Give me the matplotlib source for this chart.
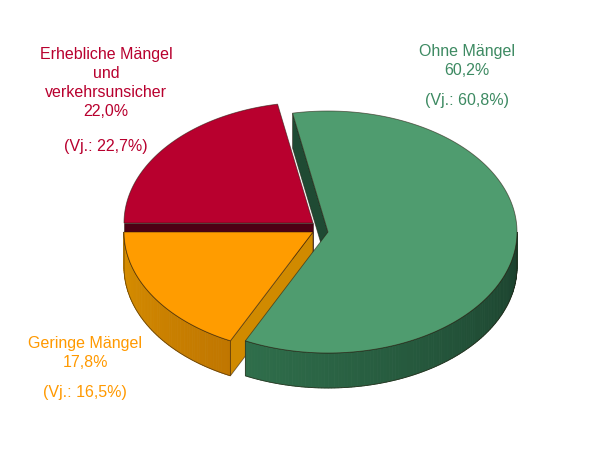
import numpy as np
import matplotlib
matplotlib.use("Agg")
import matplotlib.pyplot as plt
from matplotlib.patches import Polygon
from matplotlib.colors import to_rgb

# shares in percent, previous year values
labels = ["Erhebliche Mängel\nund\nverkehrsunsicher", "Geringe Mängel", "Ohne Mängel"]
shares = [22.0, 17.8, 60.2]
prev_year = [22.7, 16.5, 60.8]

top_colors = ["#b8002e", "#ff9c00", "#4f9c6f"]
side_colors = ["#4d0014", "#d08a00", "#1f4a33"]
wall_light = ["#8a0022", "#d99000", "#2f6e4b"]
wall_dark = ["#6a001a", "#c07600", "#1a3f2c"]
text_colors = ["#b8002e", "#ff9900", "#3d8a62"]
shifts = [(0, -9), (0, 0), (15, 0)]

cx, cy = 313, 232
rx, ry = 189, 121
depth = 35
startangle = 180 - shares[0] * 3.6

plt.rcParams['font.family'] = ['Liberation Sans', 'DejaVu Sans']
fig = plt.figure(figsize=(6, 4.5), dpi=100)
ax = fig.add_axes([0, 0, 1, 1])
ax.set_xlim(0, 600)
ax.set_ylim(450, 0)
ax.axis("off")


def pt(t, ox, oy, dz=0):
    r = np.radians(t)
    return (cx + ox + rx * np.cos(r), cy + oy - ry * np.sin(r) + dz)


def mix(c1, c2, f):
    a, b = np.array(to_rgb(c1)), np.array(to_rgb(c2))
    return tuple(a + (b - a) * f)


edge = (0.15, 0.1, 0.05, 0.6)
t0 = startangle
for i, s in enumerate(shares):
    t1 = t0 + s * 3.6
    ox, oy = shifts[i]
    c_top = (cx + ox, cy + oy)
    c_bot = (cx + ox, cy + oy + depth)

    # radial side walls facing the viewer
    for t, visible in ((t0, np.cos(np.radians(t0)) > 0), (t1, np.cos(np.radians(t1)) < 0)):
        if visible:
            ax.add_patch(Polygon([c_top, pt(t, ox, oy), pt(t, ox, oy, depth), c_bot],
                                 closed=True, fc=side_colors[i], ec=edge, lw=0.6))

    # outer curved wall (front half only)
    a0, a1 = max(t0, 180), min(t1, 360)
    if a1 > a0:
        steps = np.linspace(a0, a1, int(a1 - a0) + 2)
        for k in range(len(steps) - 1):
            f = (steps[k] - a0) / (a1 - a0)
            col = mix(wall_light[i], wall_dark[i], f)
            quad = [pt(steps[k], ox, oy), pt(steps[k + 1], ox, oy),
                    pt(steps[k + 1], ox, oy, depth), pt(steps[k], ox, oy, depth)]
            ax.add_patch(Polygon(quad, closed=True, fc=col, ec=col, lw=0.6))
        outline = [pt(a, ox, oy) for a in steps] + [pt(a, ox, oy, depth) for a in steps[::-1]]
        ax.add_patch(Polygon(outline, closed=True, fill=False, ec=edge, lw=0.6))

    # top face
    arc = np.linspace(t0, t1, 200)
    ax.add_patch(Polygon([c_top] + [pt(a, ox, oy) for a in arc], closed=True,
                         fc=top_colors[i], ec=edge, lw=0.6))
    t0 = t1


def pct(v):
    return ("%.1f%%" % v).replace(".", ",")


fs = 11.5
ls = 1.32

# labels
ax.text(106, 83, labels[0] + "\n" + pct(shares[0]), color=text_colors[0], fontsize=fs,
        ha="center", va="center", linespacing=ls)
ax.text(106, 147, "(Vj.: %s)" % pct(prev_year[0]), color=text_colors[0], fontsize=fs,
        ha="center", va="center")

ax.text(85, 353, labels[1] + "\n" + pct(shares[1]), color=text_colors[1], fontsize=fs,
        ha="center", va="center", linespacing=ls)
ax.text(85, 392, "(Vj.: %s)" % pct(prev_year[1]), color=text_colors[1], fontsize=fs,
        ha="center", va="center")

ax.text(467, 61, labels[2] + "\n" + pct(shares[2]), color=text_colors[2], fontsize=fs,
        ha="center", va="center", linespacing=ls)
ax.text(467, 100, "(Vj.: %s)" % pct(prev_year[2]), color=text_colors[2], fontsize=fs,
        ha="center", va="center")

fig.savefig("out.png", dpi=100)
